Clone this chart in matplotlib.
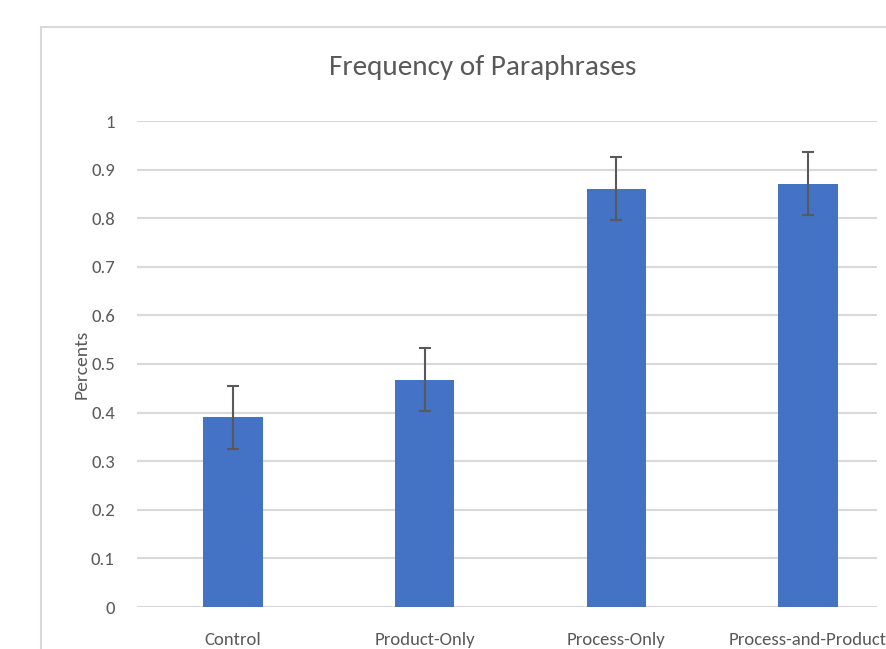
import matplotlib
import matplotlib.pyplot as plt
from matplotlib.patches import Rectangle

matplotlib.use('Agg')

categories = ['Control', 'Product-Only', 'Process-Only', 'Process-and-Product']
values = [0.39, 0.468, 0.861, 0.871]
errors = [0.065, 0.065, 0.065, 0.065]
yticks = [0, 0.1, 0.2, 0.3, 0.4, 0.5, 0.6, 0.7, 0.8, 0.9, 1]
ytick_labels = ['0', '0.1', '0.2', '0.3', '0.4', '0.5', '0.6', '0.7', '0.8', '0.9', '1']

plt.rcParams['font.family'] = ['Carlito', 'Liberation Sans Narrow', 'DejaVu Sans']

text_color = '#595959'
grid_color = '#d9d9d9'

fig = plt.figure(figsize=(8.86, 6.49), dpi=100)

# Рамка області діаграми (обрізана справа і знизу)
fig.add_artist(Rectangle((41 / 886, -0.2), 1.2, 1.2 - 27 / 649,
                         transform=fig.transFigure, fill=False,
                         edgecolor=grid_color, lw=1.5))

ax = fig.add_axes([137 / 886, 1 - 607 / 649, 740 / 886, 486 / 649])
x = range(len(categories))
ax.bar(x, values, width=0.31, color='#4472c4', zorder=3)
ax.errorbar(x, values, yerr=errors, fmt='none', ecolor=text_color,
            elinewidth=1.5, capsize=4, capthick=1.5, zorder=4)

ax.set_xlim(-0.5, 3.36)
ax.set_ylim(0, 1)
ax.set_yticks(yticks)
ax.set_yticklabels(ytick_labels)
ax.set_xticks(list(x))
ax.set_xticklabels(categories)
ax.yaxis.grid(True, color=grid_color, lw=1.5, zorder=0)
for s in ax.spines.values():
    s.set_visible(False)
ax.tick_params(length=0, colors=text_color, labelsize=13.5)
ax.tick_params(axis='y', pad=16)
ax.tick_params(axis='x', pad=18)
for lbl in ax.get_xticklabels() + ax.get_yticklabels():
    lbl.set_color(text_color)

ax.set_ylabel('Percents', color=text_color, fontsize=14, labelpad=1)
fig.text(483 / 886, 1 - 68 / 649, 'Frequency of Paraphrases', color=text_color,
         fontsize=21, ha='center', va='center')

fig.savefig('out.png', dpi=100)
plt.close(fig)
